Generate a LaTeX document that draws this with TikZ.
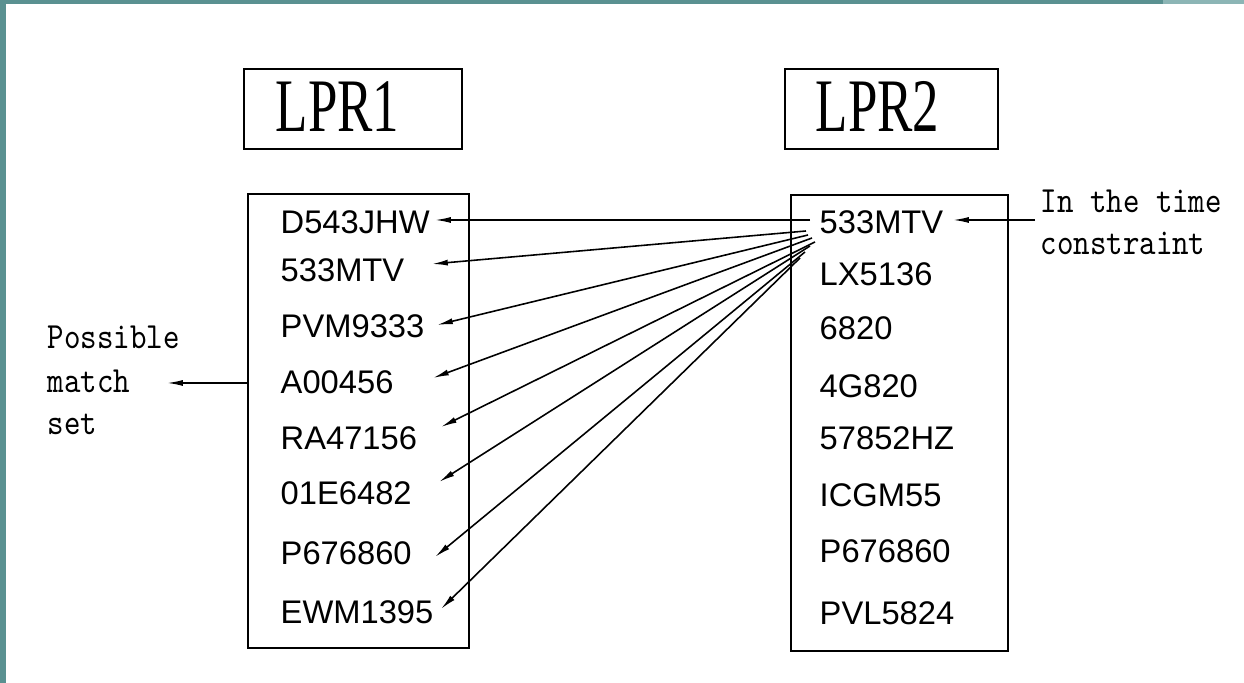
\documentclass[tikz,border=0pt]{standalone}
\usepackage{fontspec}
\setmainfont{Liberation Sans}
\newfontfamily\titlefont{Liberation Serif}
\usetikzlibrary{arrows.meta}
\definecolor{frameteal}{RGB}{90,145,145}
\definecolor{frametealL}{RGB}{140,181,181}
\newcommand{\narrow}[2]{\scalebox{#1}[1]{#2}}
\tikzset{
  box/.style={draw, line width=0.6pt, inner sep=0pt},
  item/.style={anchor=base west, inner sep=0pt, font=\fontsize{9.3}{11}\selectfont},
  title/.style={anchor=base west, inner sep=0pt, font=\titlefont\fontsize{21.5}{24}\selectfont},
  note/.style={anchor=base west, inner sep=0pt, font=\ttfamily\fontsize{10.5}{12}\selectfont},
  link/.style={line width=0.45pt, -{Latex[length=4.5pt,width=1.7pt]}},
}
\begin{document}
\begin{tikzpicture}[x=0.01cm,y=-0.01cm]
\useasboundingbox (0,0) rectangle (1244,683);
\fill[white] (0,0) rectangle (1244,683);
% slide frame
\fill[frameteal] (0,0) rectangle (1244,4);
\fill[frametealL] (1163,0) rectangle (1244,4);
\fill[frameteal] (0,0) rectangle (6,683);

% headers
\node[box, minimum width=2.18cm, minimum height=0.80cm] (h1) at (353,109) {};
\node[title] (h1t) at (275,132) {\narrow{0.7}{LPR1}};
\node[box, minimum width=2.13cm, minimum height=0.80cm] (h2) at (891.5,109) {};
\node[title] (h2t) at (815,132) {\narrow{0.7}{LPR2}};

% list frames
\node[box, minimum width=2.21cm, minimum height=4.54cm] (L) at (358.5,421) {};
\node[box, minimum width=2.17cm, minimum height=4.56cm] (R) at (899.5,423) {};

% LPR1 plates
\node[item] (l1) at (280,234) {D543JHW};
\node[item] (l2) at (280,282) {533MTV};
\node[item] (l3) at (280,338) {PVM9333};
\node[item] (l4) at (280,394) {A00456};
\node[item] (l5) at (280,450) {RA47156};
\node[item] (l6) at (280,505) {01E6482};
\node[item] (l7) at (280,565) {P676860};
\node[item] (l8) at (280,624) {EWM1395};

% LPR2 plates
\node[item] (r1) at (819,234) {533MTV};
\node[item] (r2) at (819,286) {LX5136};
\node[item] (r3) at (819,340) {6820};
\node[item] (r4) at (819,398) {4G820};
\node[item] (r5) at (819,450) {57852HZ};
\node[item] (r6) at (819,507) {ICGM55};
\node[item] (r7) at (819,563) {P676860};
\node[item] (r8) at (819,625) {PVL5824};

% side notes
\node[note] (n1) at (1040,213) {\narrow{0.85}{In the time}};
\node[note] (n2) at (1040,255) {\narrow{0.85}{constraint}};
\node[note] (p1) at (47,349) {\narrow{0.85}{Possible}};
\node[note] (p2) at (47,393) {\narrow{0.85}{match}};
\node[note] (p3) at (47,435) {\narrow{0.85}{set}};

% link end points
\coordinate (s1) at (810,220);  \coordinate (t1) at (435,220);
\coordinate (s2) at (806,231);  \coordinate (t2) at (432,264);
\coordinate (s3) at (808,235);  \coordinate (t3) at (437,325);
\coordinate (s4) at (812,238);  \coordinate (t4) at (433,378);
\coordinate (s5) at (815,242);  \coordinate (t5) at (441,427);
\coordinate (s6) at (810,246);  \coordinate (t6) at (439,482);
\coordinate (s7) at (805,252);  \coordinate (t7) at (435,557);
\coordinate (s8) at (800,258);  \coordinate (t8) at (441,609);
\coordinate (c0) at (1035,220); \coordinate (c1) at (953,220);
\coordinate (m0) at (L.west |- 0,383); \coordinate (m1) at (167,383);

\foreach \i in {1,...,8} \draw[link] (s\i) -- (t\i);
\draw[link] (c0) -- (c1);
\draw[link] (m0) -- (m1);
\end{tikzpicture}
\end{document}
